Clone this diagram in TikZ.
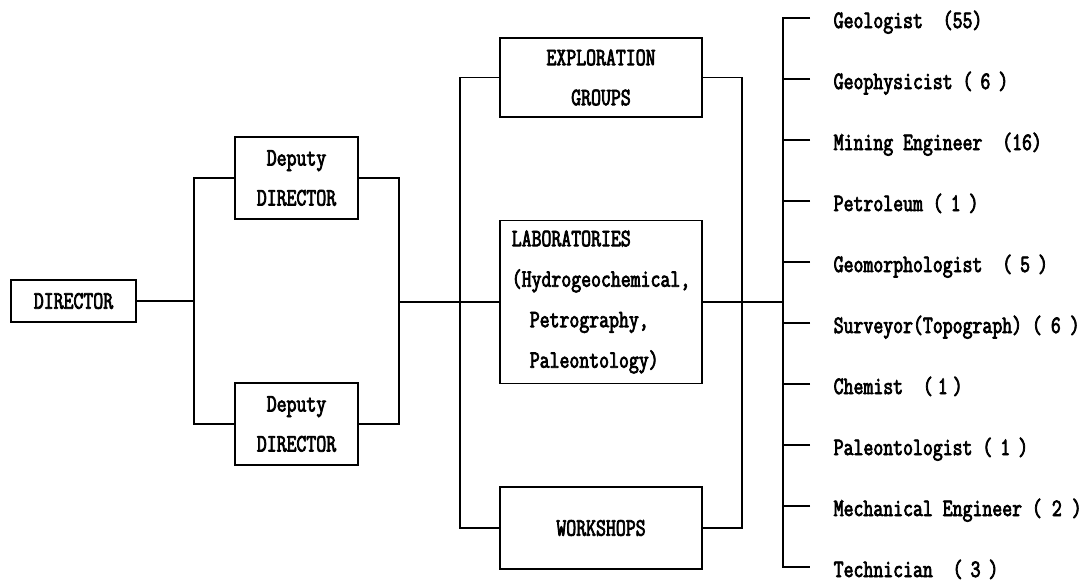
\documentclass[tikz,border=0pt]{standalone}
\usepackage{fontspec}
\newfontfamily\orgfont[FakeStretch=0.77,FakeBold=3]{Latin Modern Mono}
\newcommand\fw[2][8pt]{(\kern#1#2\kern#1)}
\begin{document}
\begin{tikzpicture}[x=1pt,y=-1pt,line width=1.4pt,
  box/.style={draw,rectangle,inner sep=0pt,align=center,
    font=\orgfont\fontsize{25}{40}\selectfont},
  staff/.style={anchor=base west,inner sep=0pt,
    font=\orgfont\fontsize{25}{40}\selectfont}]
\useasboundingbox (0,0) rectangle (1091,584);
% boxes
\node[box,minimum width=125pt,minimum height=42pt] (dir) at (73.5,301) {DIRECTOR};
\node[box,minimum width=123pt,minimum height=82pt] (dep1) at (296.5,178) {Deputy\\DIRECTOR};
\node[box,minimum width=123pt,minimum height=82pt] (dep2) at (296.5,424) {Deputy\\DIRECTOR};
\node[box,minimum width=202pt,minimum height=79pt] (exp) at (601,77.5) {EXPLORATION\\GROUPS};
\node[box,minimum width=202pt,minimum height=163pt,align=left,
  font=\orgfont\fontsize{25}{40.5}\selectfont] (lab) at (601,302)
  {LABORATORIES\\(Hydrogeochemical,\\\hspace*{18pt}Petrography,\\\hspace*{18pt}Paleontology)};
\node[box,minimum width=202pt,minimum height=82pt] (ws) at (601,528) {WORKSHOPS};
% junctions
\coordinate (j1) at (194,301);
\coordinate (j2) at (399,302);
\coordinate (j3) at (460,302);
\coordinate (j4) at (742,302);
\coordinate (j5) at (783,302);
% connectors
\draw (dir.east) -- (j1);
\draw (dep1.west) -| (j1) |- (dep2.west);
\draw (dep1.east) -| (j2) |- (dep2.east);
\draw (j2) -- (lab.west);
\draw (exp.west) -| (j3) |- (ws.west);
\draw (exp.east) -| (j4) |- (ws.east);
\draw (lab.east) -- (j5);
% staff list
\node[staff] (s1) at (833,28) {Geologist\ \ (55)};
\node[staff] (s2) at (833,89) {Geophysicist\ \fw{6}};
\node[staff] (s3) at (833,150) {Mining Engineer\ \ (16)};
\node[staff] (s4) at (833,211) {Petroleum\ \fw{1}};
\node[staff] (s5) at (833,272) {Geomorphologist\ \ \fw{5}};
\node[staff] (s6) at (833,333) {Surveyor(Topograph)\ \fw[9pt]{6}};
\node[staff] (s7) at (833,394) {Chemist\ \ \fw[5pt]{1}};
\node[staff] (s8) at (833,455) {Paleontologist\ \fw{1}};
\node[staff] (s9) at (833,516) {Mechanical Engineer\ \fw[10pt]{2}};
\node[staff] (s10) at (833,577) {Technician\ \ \fw{3}};
\foreach \k/\yy in {1/18,2/79,3/140,4/201,5/262,6/323,7/384,8/445,9/506,10/567}
  \coordinate (t\k) at (810,\yy);
\draw (t1) -| (j5) |- (t10);
\foreach \k in {2,...,9} \draw (t\k) -- (t\k -| j5);
\end{tikzpicture}
\end{document}
